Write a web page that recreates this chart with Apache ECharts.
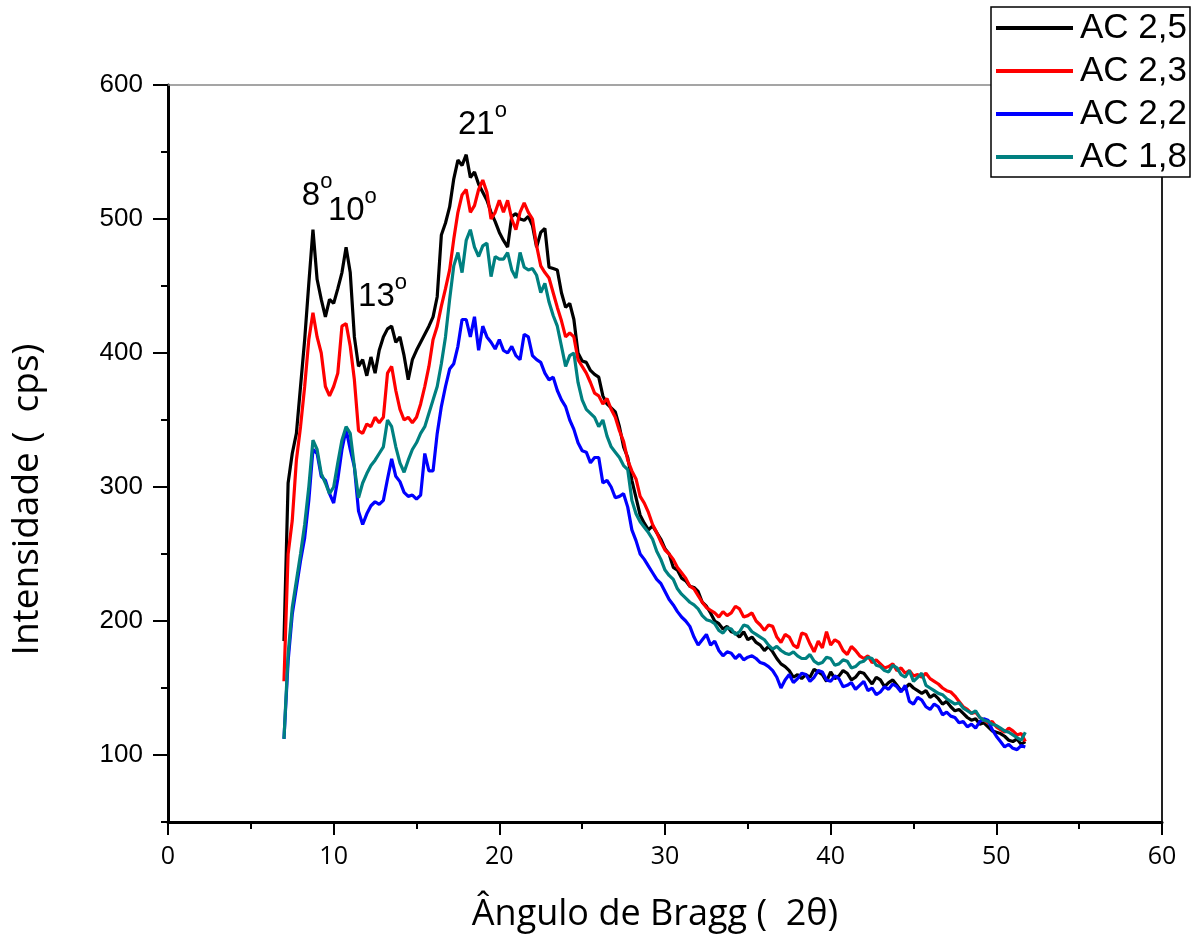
<!DOCTYPE html>
<html>
<head>
<meta charset="utf-8">
<script src="https://cdn.jsdelivr.net/npm/echarts@6/dist/echarts.min.js"></script>
<style>
html,body{margin:0;padding:0;background:#fff;}
#chart{width:1197px;height:942px;}
</style>
</head>
<body>
<div id="chart"></div>
<script>
// ---- data (2θ angle grid and intensities) ----
const angles = [
  7,7.25,7.5,7.75,8,8.25,8.5,8.75,9,9.25,9.5,9.75,10,10.25,10.5,10.75,11,11.25,11.5,11.75,
  12,12.25,12.5,12.75,13,13.25,13.5,13.75,14,14.25,14.5,14.75,15,15.25,15.5,15.75,16,16.25,16.5,16.75,
  17,17.25,17.5,17.75,18,18.25,18.5,18.75,19,19.25,19.5,19.75,20,20.25,20.5,20.75,21,21.25,21.5,21.75,
  22,22.25,22.5,22.75,23,23.25,23.5,23.75,24,24.25,24.5,24.75,25,25.25,25.5,25.75,26,26.25,26.5,26.75,
  27,27.25,27.5,27.75,28,28.25,28.5,28.75,29,29.25,29.5,29.75,30,
  30.25,30.5,30.75,31,31.25,31.5,31.75,32,32.25,32.5,32.75,33,33.25,33.5,33.75,34,
  34.25,34.5,34.75,35,35.25,35.5,35.75,36,36.25,36.5,36.75,37,37.25,37.5,37.75,38,
  38.25,38.5,38.75,39,39.25,39.5,39.75,40,40.25,40.5,40.75,41,41.25,41.5,41.75,42,
  42.25,42.5,42.75,43,43.25,43.5,43.75,44,44.25,44.5,44.75,45,45.25,45.5,45.75,46,
  46.25,46.5,46.75,47,47.25,47.5,47.75,48,48.25,48.5,48.75,49,49.25,49.5,49.75,50,
  50.25,50.5,50.75,51,51.25,51.5,51.75];

const ac25 = [185,303,325,340,375,410,452,492,455,440, 427,440,437,448,460,479,460,412,390,395,
  383,397,385,402,412,418,420,408,412,398, 380,395,402,408,414,420,427,442,488,497,
  509,530,544,540,548,531,535,526,520,514, 505,498,490,484,479,502,504,500,499,502,
  495,479,490,493,464,463,462,445,434,437, 425,400,394,393,387,384,382,368,362,359,
  356,345,330,322,305,292,279,273,268,271, 266,261,254,
  250,240,238,232, 230,226,225,222, 214,211,206,200, 198,194,196,192,
  191,188,192,186, 188,184,182,178, 181,177,172,168, 166,163,158,160,
  157,160,158,164, 162,160,155,162, 157,159,163,161, 156,158,162,161,
  157,153,158,156, 151,154,156,152, 148,150,153,150, 148,146,148,143,
  145,142,138,140, 136,133,134,131, 128,126,127,123, 124,121,118,117,
  116,114,111,110, 112,108,110];

const ac23 = [155,250,275,320,345,375,410,430,412,400, 375,368,375,385,420,422,405,380,342,340,
  347,345,352,348,352,385,390,372,358,350, 352,348,352,362,375,390,410,420,435,448,
  462,485,505,518,522,505,510,522,529,520, 500,505,514,505,514,500,492,505,512,505,
  500,480,465,460,456,445,434,424,412,415, 412,395,390,385,378,370,368,362,366,358,
  352,342,334,320,312,306,293,288,281,272, 266,259,253,
  250,246,240,236, 232,226,224,219, 214,210,208,206, 203,207,204,206,
  211,209,203,204, 206,200,197,193, 197,196,188,184, 190,188,182,180,
  191,190,183,177, 185,180,192,182, 186,184,178,175, 181,178,174,172,
  174,169,171,168, 165,166,168,163, 165,161,163,159, 160,158,161,157,
  155,153,150,148, 147,144,140,136, 134,131,132,128, 126,124,125,121,
  119,117,120,118, 115,116,110];

const ac22 = [112,170,205,225,245,262,290,328,325,308, 305,295,288,306,328,343,328,315,282,272,
  280,286,289,287,290,306,321,308,304,296, 293,294,291,294,325,312,312,340,360,375,
  388,392,405,425,425,412,427,402,420,412, 408,403,410,402,400,405,398,395,414,412,
  398,395,393,385,380,382,372,365,360,350, 343,333,327,326,318,322,322,303,305,300,
  292,293,295,285,268,260,250,246,241,236, 231,228,222,
  216,212,207,203, 200,196,188,182, 186,190,182,185, 178,174,177,176,
  172,175,171,173, 174,172,169,168, 166,163,158,150, 156,160,154,157,
  161,160,155,158, 163,162,156,155, 159,157,151,152, 154,149,152,155,
  148,150,145,147, 151,149,153,151, 147,152,140,138, 143,141,136,134,
  138,136,130,132, 129,128,124,125, 121,123,120,125, 127,126,119,114,
  110,106,108,105, 104,107,106];

const ac18 = [112,175,210,230,250,272,300,335,328,310, 303,295,300,318,335,345,340,315,292,303,
  310,316,320,325,330,350,345,330,318,311, 320,328,333,340,345,355,365,375,392,412,
  440,465,475,460,484,492,479,472,480,482, 457,472,470,470,475,462,456,475,464,462,
  463,458,445,452,438,428,420,405,390,398, 400,378,365,358,355,352,345,350,338,330,
  326,322,316,313,290,280,274,270,266,261, 252,246,238,
  234,231,224,220, 217,214,212,209, 204,201,200,198, 193,191,195,194,
  190,192,197,196, 192,190,188,186, 182,179,181,178, 176,175,177,174,
  172,172,175,170, 168,169,173,172, 167,168,171,170, 165,166,169,170,
  173,172,167,166, 163,162,167,165, 160,158,163,155, 158,161,152,150,
  148,146,145,142, 140,138,139,135, 133,131,133,128, 126,125,123,122,
  120,118,117,115, 113,111,117];

const seriesNames = ['AC 2,5','AC 2,3','AC 2,2','AC 1,8'];
const seriesColors = ['#000000','#ff0000','#0000ff','#008080'];
const seriesValues = [ac25, ac23, ac22, ac18];

const yMajorTicks = [100,200,300,400,500,600];
const yMinorTicks = [50,150,250,350,450,550];

const peakLabels = ['8','10','13','21'];
const peakLabelX = [9.0, 11.13, 12.95, 18.98];
const peakLabelY = [517, 506, 442, 570];

// ---- chart ----
const chart = echarts.init(document.getElementById('chart'), null, {renderer:'canvas'});

const series = seriesNames.map((name, k) => ({
  name: name,
  type: 'line',
  xAxisIndex: 0,
  yAxisIndex: 0,
  data: angles.map((a, i) => [a, seriesValues[k][i]]),
  showSymbol: false,
  symbol: 'none',
  lineStyle: {color: seriesColors[k], width: 3.2},
  itemStyle: {color: seriesColors[k]},
  z: 2 + k
}));

series[0].markPoint = {
  symbol: 'circle',
  symbolSize: 1,
  itemStyle: {color: 'rgba(0,0,0,0)'},
  label: {
    show: true,
    position: 'inside',
    rich: {
      a: {fontFamily: 'Liberation Sans, Arial', fontSize: 33, lineHeight: 50, color: '#000'},
      b: {fontFamily: 'Liberation Sans, Arial', fontSize: 22, lineHeight: 22, verticalAlign: 'top', color: '#000'}
    }
  },
  data: peakLabels.map((t, i) => ({
    coord: [peakLabelX[i], peakLabelY[i]],
    label: {formatter: '{a|' + t + '}{b|o}'}
  }))
};

const option = {
  backgroundColor: '#ffffff',
  animation: false,
  grid: {left: 168, right: 35, top: 85, bottom: 120, containLabel: false},
  legend: {
    data: seriesNames,
    orient: 'vertical',
    left: 991,
    top: 7,
    padding: [3, 3, 2, 5],
    itemGap: 7,
    itemWidth: 77,
    itemHeight: 4,
    icon: 'rect',
    borderColor: '#000',
    borderWidth: 1.5,
    backgroundColor: '#fff',
    textStyle: {fontFamily: 'Liberation Sans, Arial', fontSize: 35, lineHeight: 36, color: '#000', padding: [0, 0, 0, 2]}
  },
  xAxis: [
    {
      type: 'value', min: 0, max: 60, interval: 10, position: 'bottom',
      axisLine: {onZero: false, lineStyle: {color: '#000', width: 3}},
      axisTick: {length: 13, lineStyle: {color: '#000', width: 2}},
      minorTick: {show: true, splitNumber: 2, length: 7, lineStyle: {color: '#000', width: 2}},
      axisLabel: {margin: 22, fontFamily: 'Open Sans', fontSize: 25, color: '#000'},
      splitLine: {show: false},
      name: 'Ângulo de Bragg (  2θ)',
      nameLocation: 'middle',
      nameGap: 75,
      nameTextStyle: {fontFamily: 'Open Sans', fontSize: 36, color: '#000', padding: [0, 20, 0, 0]}
    },
    {
      type: 'value', min: 0, max: 60, position: 'top',
      axisLine: {onZero: false, lineStyle: {color: '#888', width: 1.5}},
      axisTick: {show: false}, axisLabel: {show: false}, splitLine: {show: false}
    }
  ],
  yAxis: [
    {
      type: 'value', min: 50, max: 600, position: 'left',
      axisLine: {onZero: false, lineStyle: {color: '#000', width: 3}},
      axisTick: {customValues: yMajorTicks, length: 15, lineStyle: {color: '#000', width: 2}},
      axisLabel: {customValues: yMajorTicks, margin: 25, fontFamily: 'Liberation Sans, Arial', fontSize: 26, color: '#000'},
      splitLine: {show: false},
      name: 'Intensidade (  cps)',
      nameLocation: 'middle',
      nameGap: 122,
      nameTextStyle: {fontFamily: 'Open Sans', fontSize: 37, color: '#000', padding: [0, 92, 0, 0]}
    },
    {
      type: 'value', min: 50, max: 600, position: 'left',
      axisLine: {show: false},
      axisTick: {customValues: yMinorTicks, length: 7, lineStyle: {color: '#000', width: 2}},
      axisLabel: {show: false}, splitLine: {show: false}
    },
    {
      type: 'value', min: 50, max: 600, position: 'right',
      axisLine: {onZero: false, lineStyle: {color: '#222', width: 2}},
      axisTick: {show: false}, axisLabel: {show: false}, splitLine: {show: false}
    }
  ],
  series: series
};

chart.setOption(option);
</script>
</body>
</html>
